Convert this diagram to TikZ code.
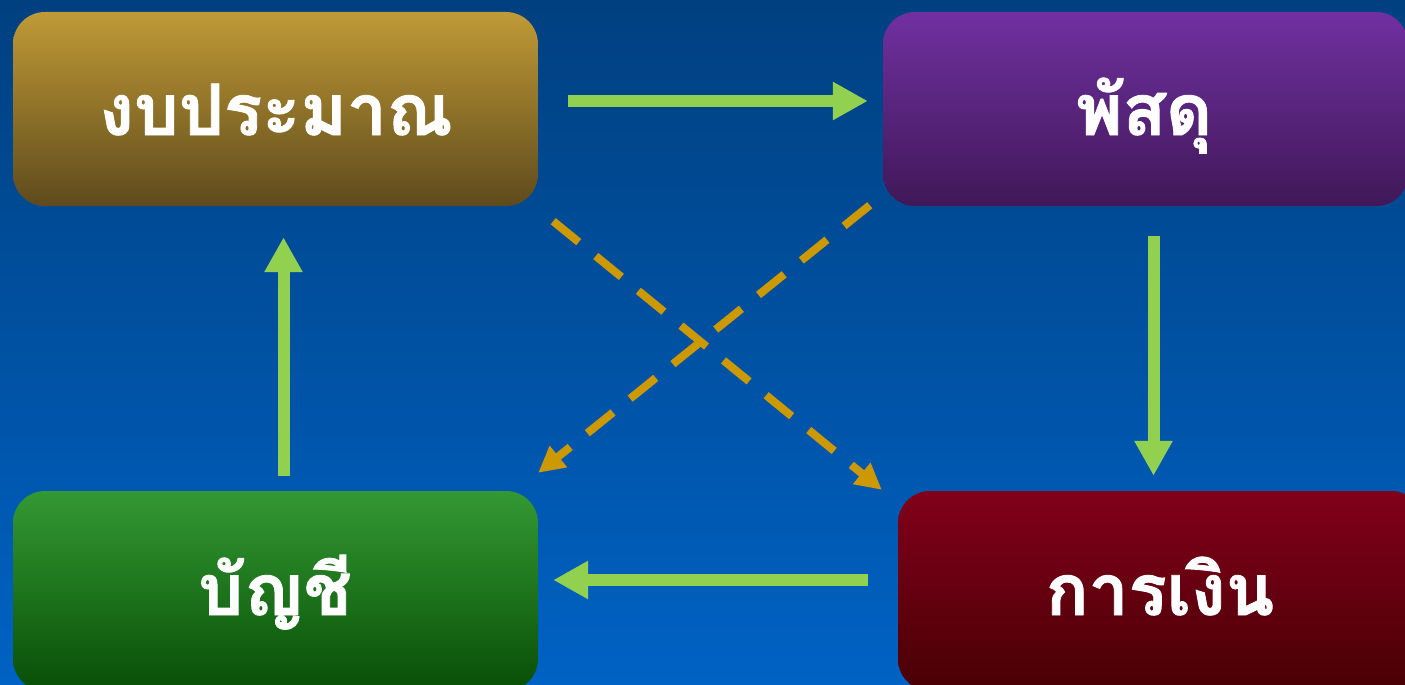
\documentclass[tikz,border=0pt]{standalone}
\usepackage{fontspec}
\newfontfamily\thaifont[Script=Thai, BoldFeatures={FakeBold=1.2}]{Loma}
\usetikzlibrary{arrows.meta}
\definecolor{bgtop}{RGB}{0,64,128}
\definecolor{bgbot}{RGB}{0,98,196}
\definecolor{goldtop}{RGB}{192,154,54}
\definecolor{goldbot}{RGB}{94,74,28}
\definecolor{purtop}{RGB}{112,48,160}
\definecolor{purbot}{RGB}{64,24,88}
\definecolor{grntop}{RGB}{51,153,51}
\definecolor{grnbot}{RGB}{8,78,6}
\definecolor{redtop}{RGB}{130,0,26}
\definecolor{redbot}{RGB}{72,0,5}
\definecolor{garrowc}{RGB}{146,208,80}
\definecolor{darrowc}{RGB}{204,153,0}
\tikzset{
  box/.style={rectangle, rounded corners=32pt, minimum width=525pt, inner sep=0pt},
  lbl/.style={anchor=base, text=white, font=\thaifont\bfseries\fontsize{71}{80}\selectfont, inner sep=0pt},
  garrow/.style={draw=garrowc, line width=12pt, -{Triangle[length=35pt,width=36pt]}},
  darrow/.style={draw=darrowc, line width=8pt, dash pattern=on 33pt off 22pt, -{Triangle[length=26pt,width=26pt]}}
}
\begin{document}
\begin{tikzpicture}[x=1pt,y=-1pt]
\useasboundingbox (0,0) rectangle (1405,685);
\shade[top color=bgtop, bottom color=bgbot] (0,0) rectangle (1405,685);
\node[box, minimum height=194pt, top color=goldtop, bottom color=goldbot] (b1) at (275.5,109) {};
\node[box, minimum height=194pt, top color=purtop, bottom color=purbot] (b2) at (1145.5,109) {};
\node[box, minimum height=200pt, top color=grntop, bottom color=grnbot] (b3) at (275.5,591) {};
\node[box, minimum height=200pt, top color=redtop, bottom color=redbot] (b4) at (1160.5,591) {};
\node[lbl] (t1) at (276,135) {งบประมาณ};
\node[lbl] (t2) at (1144,135) {พัสดุ};
\node[lbl] (t3) at (275,615) {บัญชี};
\node[lbl] (t4) at (1160,615) {การเงิน};
\draw[garrow] ([xshift=30pt,yshift=8pt]b1.east) -- ([xshift=-15pt,yshift=8pt]b2.west);
\draw[garrow] ([xshift=8pt,yshift=-30pt]b2.south) -- ([xshift=-7pt,yshift=15pt]b4.north);
\draw[garrow] ([xshift=-30pt,yshift=11pt]b4.west) -- ([xshift=15pt,yshift=11pt]b3.east);
\draw[garrow] ([xshift=8pt,yshift=15pt]b3.north) -- ([xshift=8pt,yshift=-31pt]b1.south);
\draw[darrow] ([xshift=15pt,yshift=-15pt]b1.south east) -- ([xshift=-16pt,yshift=1pt]b4.north west);
\draw[darrow] ([xshift=-13pt,yshift=1pt]b2.south west) -- ([xshift=0pt,yshift=18pt]b3.north east);
\end{tikzpicture}
\end{document}
